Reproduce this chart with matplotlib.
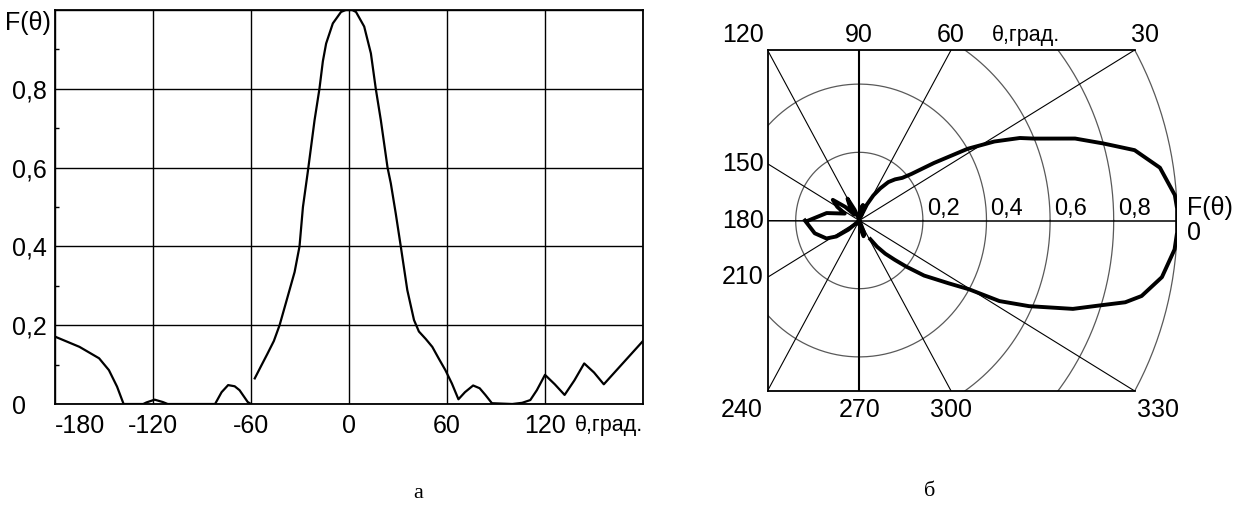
import numpy as np
import matplotlib
matplotlib.use('Agg')
import matplotlib.pyplot as plt
from matplotlib.patches import Polygon

# radiation pattern F(theta)
theta_deg = [-180, -165, -153, -147, -142, -138, -126, -124, -119, -114, -111,
             -82, -78, -74, -70, -67, -62, -60, np.nan,
             -57.7, -54, -50, -46, -42.5, -38.4, -33.3, -30.3, -28.2, -25.2,
             -21.1, -18.1, -16, -14, -9.9, -4.9, -2, 2, 4.3, 9.3, 13.4, 16.4,
             19.5, 23.6, 25.6, 28.6, 31.7, 35.7, 39.8, 42.8, 47, 51, 55, 59,
             63, 67, 71, 76, 80, 83.5, 87.5, 100, 106, 111, 115, 120, 126,
             132, 138, 144, 150, 156, 168, 180]
f_theta = [0.171, 0.145, 0.116, 0.086, 0.044, 0.0, 0.0, 0.004, 0.011, 0.005, 0.0,
           0.0, 0.03, 0.048, 0.045, 0.035, 0.005, 0.0, np.nan,
           0.065, 0.095, 0.127, 0.16, 0.2, 0.26, 0.335, 0.40, 0.50, 0.59,
           0.72, 0.80, 0.87, 0.915, 0.966, 0.995, 1.0, 1.0, 0.995, 0.958, 0.89,
           0.80, 0.72, 0.60, 0.56, 0.484, 0.40, 0.289, 0.213, 0.184, 0.165,
           0.145, 0.115, 0.086,
           0.052, 0.012, 0.03, 0.047, 0.04, 0.023, 0.002, 0.0, 0.003, 0.01,
           0.035, 0.074, 0.05, 0.023, 0.06, 0.103, 0.08, 0.05, 0.105, 0.16]

x_ticks = [-180, -120, -60, 0, 60, 120, 180]
x_labels = ['-180', '-120', '-60', '0', '60', '120', '']
y_ticks = [0, 0.2, 0.4, 0.6, 0.8, 1.0]
y_labels = ['0', '0,2', '0,4', '0,6', '0,8', '']
rings = [0.2, 0.4, 0.6, 0.8, 1.0]
ring_labels = ['0,2', '0,4', '0,6', '0,8']
spokes = list(range(0, 360, 30))

W, H = 1252, 508
PT = 0.72  # points per pixel at dpi 100
plt.rcParams['font.family'] = ['Liberation Sans', 'DejaVu Sans']

fig = plt.figure(figsize=(W / 100, H / 100), dpi=100)

# ---- a: cartesian pattern ----
ax = fig.add_axes([55 / W, (H - 404) / H, 588 / W, 394 / H])
ax.plot(theta_deg, f_theta, color='black', lw=1.6)
ax.set_xlim(-180, 180)
ax.set_ylim(0, 1)
ax.set_xticks(x_ticks)
ax.set_xticklabels(x_labels, fontsize=18)
ax.set_yticks(y_ticks)
ax.set_yticklabels(y_labels, fontsize=18)
ax.set_yticks([0.1, 0.3, 0.5, 0.7, 0.9], minor=True)
ax.grid(True, color='black', lw=1.0)
ax.tick_params(axis='x', length=0, pad=7)
ax.tick_params(axis='y', which='major', length=0, pad=31)
ax.tick_params(axis='y', which='minor', direction='in', length=3, width=1)
for lab in ax.get_yticklabels():
    lab.set_ha('left')
ax.get_xticklabels()[0].set_ha('left')
for sp in ax.spines.values():
    sp.set_linewidth(1.3)
ax.annotate('θ,град.', xy=(180, 0), xytext=(0, -21 * PT), textcoords='offset points',
            ha='right', va='center', fontsize=15.5)
ax.annotate('F(θ)', xy=(-180, 0.967), xytext=(-50 * PT, 0), textcoords='offset points',
            ha='left', va='center', fontsize=18)

# ---- б: polar pattern ----
axp = fig.add_axes([767.5 / W, (H - 391) / H, 409.8 / W, 341 / H])
xl = -np.tan(np.radians(30)) / 2  # left edge where the 120 spoke meets the top
axp.set_xlim(xl, 1.0)
axp.set_ylim(-0.5, 0.5)
axp.axis('off')

arc = np.radians(np.linspace(30, -30, 60))
clip_pts = [(xl, -0.5), (xl, 0.5)] + [(1.006 * np.cos(a), 1.006 * np.sin(a)) for a in arc]
clip = Polygon(clip_pts, closed=True, fill=False, lw=0)
axp.add_patch(clip)

t = np.linspace(0, 2 * np.pi, 400)
for r in rings:
    ln, = axp.plot(r * np.cos(t), r * np.sin(t), color='0.35', lw=0.9)
    ln.set_clip_path(clip)
for s in spokes:
    a = np.radians(s)
    lw = 1.5 if s in (90, 270) else (1.1 if s in (0, 180) else 0.8)
    ln, = axp.plot([0, 1.2 * np.cos(a)], [0, 1.2 * np.sin(a)], color='black', lw=lw)
    ln.set_clip_path(clip)

x_top = np.cos(np.radians(30))
axp.plot([xl, xl], [-0.5, 0.5], color='black', lw=1.3, clip_on=False)
axp.plot([xl, x_top], [0.5, 0.5], color='black', lw=1.3, clip_on=False)
axp.plot([xl, x_top], [-0.5, -0.5], color='black', lw=1.3, clip_on=False)

th = np.radians(np.array(theta_deg, dtype=float))
fr = np.array(f_theta, dtype=float)
axp.plot(fr * np.cos(th), fr * np.sin(th), color='black', lw=2.8,
         solid_joinstyle='round')

fs = 18
top_off = 15 * PT
axp.annotate('120', xy=(xl, 0.5), xytext=(-4 * PT, top_off), textcoords='offset points',
             ha='right', va='center', fontsize=fs)
axp.annotate('90', xy=(0, 0.5), xytext=(0, top_off), textcoords='offset points',
             ha='center', va='center', fontsize=fs)
axp.annotate('60', xy=(-xl, 0.5), xytext=(0, top_off), textcoords='offset points',
             ha='center', va='center', fontsize=fs)
axp.annotate('θ,град.', xy=(0.524, 0.5), xytext=(0, top_off), textcoords='offset points',
             ha='center', va='center', fontsize=15.5)
axp.annotate('30', xy=(x_top, 0.5), xytext=(-4 * PT, top_off), textcoords='offset points',
             ha='left', va='center', fontsize=fs)
for lab, yv in [('150', 1 / 6), ('180', 0), ('210', -1 / 6)]:
    axp.annotate(lab, xy=(xl, yv), xytext=(-4 * PT, 0), textcoords='offset points',
                 ha='right', va='center', fontsize=fs)
bot_off = -19 * PT
axp.annotate('240', xy=(xl, -0.5), xytext=(-5 * PT, bot_off), textcoords='offset points',
             ha='right', va='center', fontsize=fs)
axp.annotate('270', xy=(0, -0.5), xytext=(0, bot_off), textcoords='offset points',
             ha='center', va='center', fontsize=fs)
axp.annotate('300', xy=(-xl, -0.5), xytext=(0, bot_off), textcoords='offset points',
             ha='center', va='center', fontsize=fs)
axp.annotate('330', xy=(x_top, -0.5), xytext=(2 * PT, bot_off), textcoords='offset points',
             ha='left', va='center', fontsize=fs)
axp.annotate('F(θ)', xy=(1.0, 0), xytext=(10 * PT, 13 * PT), textcoords='offset points',
             ha='left', va='center', fontsize=fs)
axp.annotate('0', xy=(1.0, 0), xytext=(10 * PT, -12 * PT), textcoords='offset points',
             ha='left', va='center', fontsize=fs)
for r, lab in zip(rings, ring_labels):
    axp.annotate(lab, xy=(r, 0), xytext=(4 * PT, 11 * PT), textcoords='offset points',
                 ha='left', va='center', fontsize=17)

fig.text(418 / W, 1 - 493 / H, 'а', family='Liberation Serif', fontsize=16,
         ha='center', va='center')
fig.text(930 / W, 1 - 491 / H, 'б', family='Liberation Serif', fontsize=16,
         ha='center', va='center')

fig.savefig('out.png', dpi=100)
